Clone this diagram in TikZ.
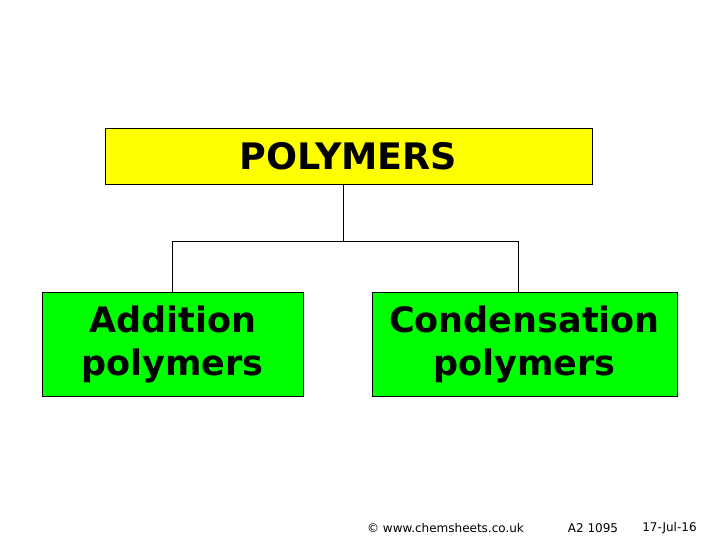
\documentclass[tikz,border=0pt]{standalone}
\usepackage{fontspec}
\setmainfont{DejaVu Sans}
\definecolor{boxyellow}{RGB}{255,255,0}
\definecolor{boxgreen}{RGB}{0,255,0}
\begin{document}
\begin{tikzpicture}[x=1pt,y=-1pt,
  box/.style={draw=black,line width=0.8pt,inner sep=0pt,align=center,
    font=\bfseries\fontsize{35}{43}\selectfont},
  conn/.style={draw=black,line width=0.8pt},
  foot/.style={inner sep=0pt,font=\fontsize{12}{14}\selectfont}]
\path[use as bounding box] (0,0) rectangle (720,540);
\node[box,fill=boxyellow,minimum width=487pt,minimum height=56pt,
  font=\bfseries\fontsize{36.5}{43}\selectfont] (top) at (348.5,156) {POLYMERS};
\node[box,fill=boxgreen,minimum width=261pt,minimum height=104pt] (add) at (172.5,344) {Addition\\polymers};
\node[box,fill=boxgreen,minimum width=305pt,minimum height=104pt] (con) at (524.5,344) {Condensation\\polymers};
\coordinate (j) at (343,241);
\coordinate (jl) at (172,241);
\coordinate (jr) at (518,241);
\draw[conn] (top.south -| j) -- (j);
\draw[conn] (jl |- add.north) -- (jl) -- (jr) -- (jr |- con.north);
\node[foot] (f1) at (445.5,528) {© www.chemsheets.co.uk};
\node[foot] (f2) at (593,528) {A2 1095};
\node[foot] (f3) at (669.5,528) {17-Jul-16};
\end{tikzpicture}
\end{document}
